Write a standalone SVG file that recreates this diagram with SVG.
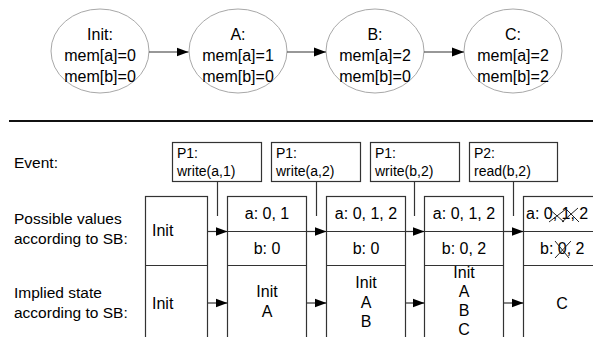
<svg xmlns="http://www.w3.org/2000/svg" width="593" height="337" viewBox="0 0 593 337">
  <defs>
    <marker id="ah2" viewBox="0 0 12 10" refX="12" refY="5" markerWidth="12" markerHeight="10" markerUnits="userSpaceOnUse" orient="auto">
      <path d="M0,0.5 L12,5 L0,9.5 z" fill="#000"/>
    </marker>
    <style>
      text { font-family: "Liberation Sans", Arial, sans-serif; fill: #000; }
      .t16 { font-size: 16px; }
      .lbl { font-size: 15.5px; }
      .t14 { font-size: 14px; }
      .mid { text-anchor: middle; }
      .ell { fill: #fff; stroke: #a8a8a8; stroke-width: 1; }
      .box { fill: #fff; stroke: #333; stroke-width: 1.2; }
      .ln { stroke: #333; stroke-width: 1.2; fill: none; }
      .arr { stroke: #333; stroke-width: 1.2; fill: none; marker-end: url(#ah2); }
      .x { stroke: #222; stroke-width: 1; }
    </style>
  </defs>
  <rect width="593" height="337" fill="#fff"/>

  <!-- top state graph -->
  <g id="state-init">
    <ellipse class="ell" cx="100" cy="51" rx="49" ry="42"/>
    <text class="t16 mid" x="100" y="40">Init:</text>
    <text class="t16 mid" x="100" y="61">mem[a]=0</text>
    <text class="t16 mid" x="100" y="82">mem[b]=0</text>
  </g>
  <g id="state-a">
    <ellipse class="ell" cx="238" cy="51" rx="49" ry="42"/>
    <text class="t16 mid" x="238" y="40">A:</text>
    <text class="t16 mid" x="238" y="61">mem[a]=1</text>
    <text class="t16 mid" x="238" y="82">mem[b]=0</text>
  </g>
  <g id="state-b">
    <ellipse class="ell" cx="375" cy="51" rx="49" ry="42"/>
    <text class="t16 mid" x="375" y="40">B:</text>
    <text class="t16 mid" x="375" y="61">mem[a]=2</text>
    <text class="t16 mid" x="375" y="82">mem[b]=0</text>
  </g>
  <g id="state-c">
    <ellipse class="ell" cx="513" cy="51" rx="49" ry="42"/>
    <text class="t16 mid" x="513" y="40">C:</text>
    <text class="t16 mid" x="513" y="61">mem[a]=2</text>
    <text class="t16 mid" x="513" y="82">mem[b]=2</text>
  </g>

  <!-- separator -->
  <line x1="9" y1="121" x2="593" y2="121" stroke="#111" stroke-width="2"/>

  <!-- row labels -->
  <g id="labels">
    <text class="lbl" x="14" y="168">Event:</text>
    <text class="lbl" x="14" y="224">Possible values</text>
    <text class="lbl" x="14" y="244">according to SB:</text>
    <text class="lbl" x="14" y="298">Implied state</text>
    <text class="lbl" x="14" y="318">according to SB:</text>
  </g>

  <!-- events -->
  <g id="ev1">
    <rect class="box" x="172.5" y="142.5" width="89" height="39"/>
    <text class="t14" x="177" y="158">P1:</text>
    <text class="t14" x="177" y="176">write(a,1)</text>
  </g>
  <g id="ev2">
    <rect class="box" x="271.5" y="142.5" width="89" height="39"/>
    <text class="t14" x="276" y="158">P1:</text>
    <text class="t14" x="276" y="176">write(a,2)</text>
  </g>
  <g id="ev3">
    <rect class="box" x="370.5" y="142.5" width="89" height="39"/>
    <text class="t14" x="375" y="158">P1:</text>
    <text class="t14" x="375" y="176">write(b,2)</text>
  </g>
  <g id="ev4">
    <rect class="box" x="469.5" y="142.5" width="88" height="39"/>
    <text class="t14" x="474" y="158">P2:</text>
    <text class="t14" x="474" y="176">read(b,2)</text>
  </g>

  <!-- columns -->
  <g id="col-init">
    <rect class="box" x="145.5" y="196.5" width="62" height="150"/>
    <line class="ln" x1="145.5" y1="265.5" x2="207.5" y2="265.5"/>
    <text class="t16" x="152" y="236">Init</text>
    <text class="t16" x="152" y="309">Init</text>
  </g>
  <g id="col-1">
    <rect class="box" x="227.5" y="196.5" width="79" height="150"/>
    <line class="ln" x1="227.5" y1="265.5" x2="306.5" y2="265.5"/>
    <text class="t16 mid" x="267" y="219">a: 0, 1</text>
    <text class="t16 mid" x="267" y="254">b: 0</text>
    <text class="t16 mid" x="267" y="297">Init</text>
    <text class="t16 mid" x="267" y="317">A</text>
  </g>
  <g id="col-2">
    <rect class="box" x="326.5" y="196.5" width="79" height="150"/>
    <line class="ln" x1="326.5" y1="265.5" x2="405.5" y2="265.5"/>
    <text class="t16 mid" x="366" y="219">a: 0, 1, 2</text>
    <text class="t16 mid" x="366" y="254">b: 0</text>
    <text class="t16 mid" x="366" y="288">Init</text>
    <text class="t16 mid" x="366" y="308">A</text>
    <text class="t16 mid" x="366" y="327">B</text>
  </g>
  <g id="col-3">
    <rect class="box" x="424.5" y="196.5" width="79" height="150"/>
    <line class="ln" x1="424.5" y1="265.5" x2="503.5" y2="265.5"/>
    <text class="t16 mid" x="464" y="219">a: 0, 1, 2</text>
    <text class="t16 mid" x="464" y="254">b: 0, 2</text>
    <text class="t16 mid" x="464" y="278">Init</text>
    <text class="t16 mid" x="464" y="297">A</text>
    <text class="t16 mid" x="464" y="316">B</text>
    <text class="t16 mid" x="464" y="335">C</text>
  </g>
  <g id="col-4">
    <rect class="box" x="523.5" y="196.5" width="80" height="150"/>
    <line class="ln" x1="523.5" y1="265.5" x2="603" y2="265.5"/>
    <text class="t16" x="526" y="219">a: 0, 1, 2</text>
    <text class="t16" x="540" y="254">b: 0, 2</text>
    <line class="x" x1="548" y1="208" x2="564" y2="222"/>
    <line class="x" x1="549" y1="222" x2="566" y2="209"/>
    <line class="x" x1="562" y1="222" x2="578" y2="208"/>
    <line class="x" x1="566" y1="209" x2="579" y2="222"/>
    <line class="x" x1="555" y1="241" x2="569" y2="258"/>
    <line class="x" x1="555" y1="258" x2="571" y2="241"/>
    <text class="t16 mid" x="562" y="309">C</text>
  </g>

  <!-- connectors -->
  <g id="connectors">
    <line class="arr" x1="149" y1="52" x2="188.5" y2="52"/>
    <line class="arr" x1="287" y1="52" x2="326" y2="52"/>
    <line class="arr" x1="424" y1="52" x2="464" y2="52"/>

    <line class="ln" x1="217.5" y1="181.5" x2="217.5" y2="216"/>
    <line class="ln" x1="316.5" y1="181.5" x2="316.5" y2="216"/>
    <line class="ln" x1="414.5" y1="181.5" x2="414.5" y2="216"/>
    <line class="ln" x1="513.5" y1="181.5" x2="513.5" y2="216"/>

    <line class="ln" x1="207.5" y1="231.5" x2="593" y2="231.5"/>
    <line class="arr" x1="207.5" y1="231.5" x2="227.5" y2="231.5"/>
    <line class="arr" x1="306.5" y1="231.5" x2="326.5" y2="231.5"/>
    <line class="arr" x1="405.5" y1="231.5" x2="424.5" y2="231.5"/>
    <line class="arr" x1="503.5" y1="231.5" x2="523.5" y2="231.5"/>

    <line class="arr" x1="207.5" y1="303" x2="227.5" y2="303"/>
    <line class="arr" x1="306.5" y1="303" x2="326.5" y2="303"/>
    <line class="arr" x1="405.5" y1="303" x2="424.5" y2="303"/>
    <line class="arr" x1="503.5" y1="303" x2="523.5" y2="303"/>
  </g>
</svg>
